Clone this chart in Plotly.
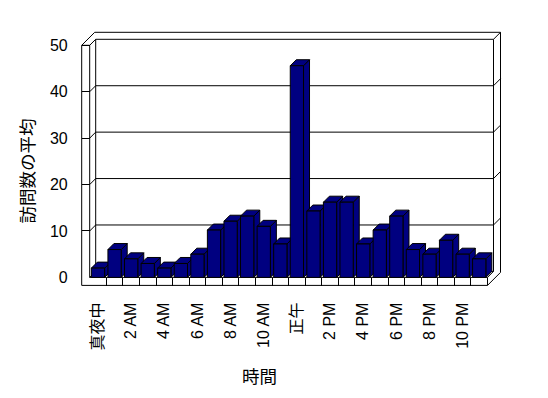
import plotly.graph_objects as go

# ---------------- data ----------------
categories = ["真夜中", "1 AM", "2 AM", "3 AM", "4 AM", "5 AM", "6 AM", "7 AM", "8 AM", "9 AM",
              "10 AM", "11 AM", "正午", "1 PM", "2 PM", "3 PM", "4 PM", "5 PM", "6 PM", "7 PM",
              "8 PM", "9 PM", "10 PM", "11 PM"]
visits = [2.0, 6.0, 4.0, 3.0, 2.0, 3.0, 5.0, 10.2, 12.1, 13.2, 11.0, 7.2,
          45.6, 14.3, 16.2, 16.2, 7.2, 10.2, 13.2, 6.0, 5.0, 8.0, 5.0, 4.0]
tick_labels = ["真夜中", "2 AM", "4 AM", "6 AM", "8 AM", "10 AM",
               "正午", "2 PM", "4 PM", "6 PM", "8 PM", "10 PM"]
y_ticks = [0, 10, 20, 30, 40, 50]
x_title = "時間"
y_title = "訪問数の平均"

# ---------------- geometry (page pixels) ----------------
W_FIG, H_FIG = 548, 398
OFF = 8                     # page body margin
L, R = 89.7, 487.5          # front plane left/right
Y0, Y50 = 277.4, 45.3       # front plane value 0 / 50
D = 6.0                     # depth from front plane to back wall
WT = 7.0                    # back wall thickness
ST = 8.0                    # side wall / floor thickness
n = len(categories)
PXC = (R - L) / n
PXV = (Y0 - Y50) / 50.0

def X(px):
    return -0.5 + (px - L) / PXC

def V(py):
    return (Y0 - py) / PXV

def PX(px):
    return (px - OFF) / W_FIG

def PY(py):
    return 1 - (py - OFF) / H_FIG

DOM_X = (70, 515)
DOM_Y = (20, 295)
xrange_ = [X(DOM_X[0]), X(DOM_X[1])]
yrange_ = [V(DOM_Y[1]), V(DOM_Y[0])]

dxD, dyD = D / PXC, D / PXV
dxW, dyW = WT / PXC, WT / PXV
dxS, dyS = ST / PXC, ST / PXV
xl, xr = -0.5, n - 0.5
ytop = y_ticks[-1]

shapes = []
def line(x0, y0, x1, y1):
    shapes.append(dict(type="line", xref="x", yref="y", x0=x0, y0=y0, x1=x1, y1=y1,
                       line=dict(color="black", width=1), layer="below"))

# back wall front face
line(xl + dxD, dyD, xl + dxD, ytop + dyD)
line(xl + dxD, ytop + dyD, xr + dxD, ytop + dyD)
line(xr + dxD, dyD, xr + dxD, ytop + dyD)
# gridlines + wall diagonals
for v in y_ticks:
    if 0 < v < ytop:
        line(xl + dxD, v + dyD, xr + dxD, v + dyD)
    line(xl, v, xl + dxD, v + dyD)
    if v > 0:
        line(xr + dxD, v + dyD, xr + dxD + dxW, v + dyD + dyW)
# floor back line
line(xl + dxD, dyD, xr + dxD, dyD)
# back wall thickness
line(xl - dxS + dxD + dxW, ytop + dyD + dyW, xr + dxD + dxW, ytop + dyD + dyW)
line(xr + dxD + dxW, ytop + dyD + dyW, xr + dxD + dxW, -dyS + dyD + dyW)
# left wall
line(xl - dxS, ytop, xl - dxS, -dyS)
line(xl, ytop, xl, 0)
line(xl - dxS, ytop, xl, ytop)
line(xl - dxS, ytop, xl - dxS + dxD + dxW, ytop + dyD + dyW)
# floor
line(xl, 0, xr, 0)
line(xl - dxS, -dyS, xr, -dyS)
line(xr, 0, xr, -dyS)
line(xr, -dyS, xr + dxD + dxW, -dyS + dyD + dyW)
line(xr, 0, xr + dxD, dyD)

# bar top and side faces
BW = 0.8
for i, v in enumerate(visits):
    x0, x1 = i - BW / 2, i + BW / 2
    top = f"M {x0},{v} L {x0+dxD},{v+dyD} L {x1+dxD},{v+dyD} L {x1},{v} Z"
    side = f"M {x1},0 L {x1},{v} L {x1+dxD},{v+dyD} L {x1+dxD},{dyD} Z"
    for p in (side, top):
        shapes.append(dict(type="path", xref="x", yref="y", path=p,
                           fillcolor="#000080", line=dict(color="black", width=1),
                           layer="between"))

fig = go.Figure(go.Bar(x=list(range(n)), y=visits, width=BW,
                       marker=dict(color="#000080", line=dict(color="black", width=1))))

FONT = "Liberation Sans, Noto Sans CJK JP, sans-serif"
fig.update_layout(
    template="none",
    width=W_FIG, height=H_FIG,
    margin=dict(l=0, r=0, t=0, b=0),
    paper_bgcolor="white", plot_bgcolor="white",
    showlegend=False,
    shapes=shapes,
    font=dict(family=FONT, size=16, color="black"),
    xaxis=dict(domain=[PX(DOM_X[0]), PX(DOM_X[1])], range=xrange_,
               anchor="free", position=PY(Y0),
               showgrid=False, zeroline=False, showline=False,
               tickmode="array", tickvals=list(range(0, n, 2)), ticktext=tick_labels,
               tickangle=-90, ticks="", ticklabelstandoff=21,
               minor=dict(tickmode="array", tickvals=[i + 0.5 for i in range(n - 1)],
                          ticks="outside", ticklen=ST, tickcolor="black", tickwidth=1,
                          showgrid=False),
               tickfont=dict(family=FONT, size=16, color="black"), automargin=False),
    yaxis=dict(domain=[PY(DOM_Y[1]), PY(DOM_Y[0])], range=yrange_,
               anchor="free", position=PX(L),
               showgrid=False, zeroline=False, showline=False,
               tickmode="array", tickvals=y_ticks, ticks="", ticklabelstandoff=22,
               minor=dict(tickmode="array", tickvals=y_ticks[1:],
                          ticks="outside", ticklen=ST, tickcolor="black", tickwidth=1,
                          showgrid=False),
               tickfont=dict(family=FONT, size=16, color="black"), automargin=False),
    annotations=[
        dict(text=y_title, xref="paper", yref="paper", x=PX(26), y=PY(171.5),
             showarrow=False, textangle=-90, xanchor="center", yanchor="middle",
             font=dict(family="Noto Sans CJK JP", size=17.5, color="black")),
        dict(text=x_title, xref="paper", yref="paper", x=PX(259), y=PY(375.5),
             showarrow=False, xanchor="center", yanchor="middle",
             font=dict(family="Noto Sans CJK JP", size=17.5, color="black")),
    ],
)

fig.write_html("out.html")
